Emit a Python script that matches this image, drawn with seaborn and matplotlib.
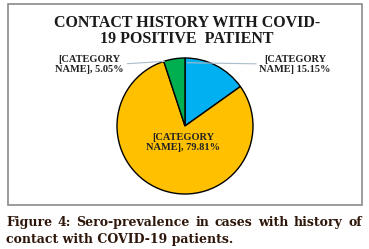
import matplotlib
matplotlib.use("Agg")
import matplotlib.pyplot as plt
import numpy as np
import seaborn as sns
from matplotlib.patches import Rectangle

sns.set_theme(style="white")
plt.rcParams["font.family"] = ["Liberation Serif", "DejaVu Serif"]

categories = ["[CATEGORY\nNAME] 15.15%", "[CATEGORY\nNAME], 79.81%", "[CATEGORY\nNAME], 5.05%"]
shares = [15.15, 79.81, 5.05]
colors = ["#00B0F0", "#FFC000", "#00B050"]
title = "CONTACT HISTORY WITH COVID-\n19 POSITIVE  PATIENT"
caption = ["Figure 4: Sero-prevalence in cases with history of",
           "contact with COVID-19 patients."]

W, H = 369, 249
fig = plt.figure(figsize=(W / 100, H / 100), dpi=100)

# chart frame
fig.patches.append(Rectangle((8 / W, 1 - 205 / H), 354 / W, 201 / H,
                             transform=fig.transFigure, fill=False,
                             edgecolor="#8a8a8a", linewidth=1.2))

fig.text(187 / W, 1 - 31 / H, title, ha="center", va="center",
         fontsize=11.5, fontweight="bold", color="#1a1a1a",
         linespacing=1.05)

# pie axes: centre (185,126), radius 68 px
r = 68
ax = fig.add_axes([(185 - r) / W, 1 - (126 + r) / H, 2 * r / W, 2 * r / H])
wedges, _ = ax.pie(shares, colors=colors, startangle=90, counterclock=False,
                   wedgeprops={"edgecolor": "black", "linewidth": 1.0})
ax.set_xlim(-1, 1)
ax.set_ylim(-1, 1)
ax.set_aspect("equal")

lab_kw = dict(fontsize=7.5, fontweight="semibold", color="#222222",
              linespacing=1.1, annotation_clip=False)
# blue slice label (right)
ax.annotate(categories[0], xy=(0.03, 0.93), xytext=(1.62, 0.9),
            ha="center", va="center",
            arrowprops=dict(arrowstyle="-", color="#a9bccb", lw=0.8,
                            shrinkA=0, shrinkB=0, relpos=(0, 0.55)), **lab_kw)
# green slice label (left)
ax.annotate(categories[2], xy=(-0.3, 0.95), xytext=(-1.4, 0.9),
            ha="center", va="center",
            arrowprops=dict(arrowstyle="-", color="#a9bccb", lw=0.8,
                            shrinkA=0, shrinkB=0, relpos=(1, 0.55)), **lab_kw)
# yellow slice label (inside)
ax.text(-0.03, -0.24, categories[1], ha="center", va="center",
        fontsize=7.5, fontweight="semibold", color="#222222", linespacing=1.1)

# justified caption
fig.canvas.draw()
renderer = fig.canvas.get_renderer()
cap_kw = dict(fontsize=9, fontweight="bold", color="#2e160a",
              family=["DejaVu Serif"], va="center", ha="left")
x0, x1 = 6 / W, 362 / W
for i, line in enumerate(caption):
    y = 1 - (222 + 17 * i) / H
    words = line.split(" ")
    if i < len(caption) - 1:
        txts = [fig.text(0, y, w_, **cap_kw) for w_ in words]
        widths = [t.get_window_extent(renderer).width / W for t in txts]
        gap = (x1 - x0 - sum(widths)) / (len(words) - 1)
        x = x0
        for t, wd in zip(txts, widths):
            t.set_x(x)
            x += wd + gap
    else:
        fig.text(x0, y, line, **cap_kw)

fig.savefig("out.png", dpi=100)
